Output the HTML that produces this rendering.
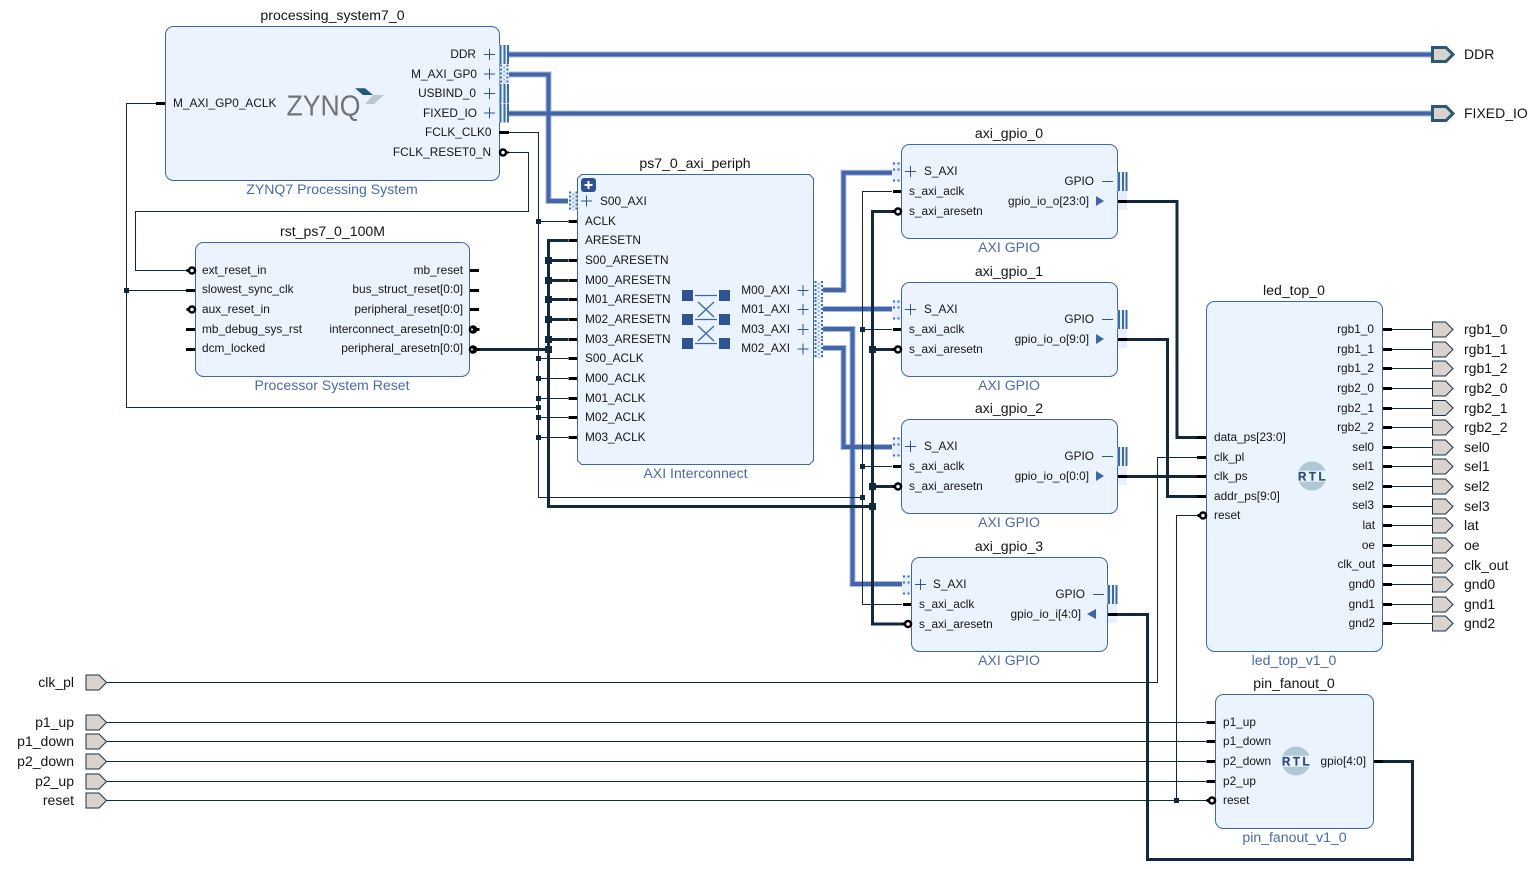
<!DOCTYPE html>
<html lang="en"><head><meta charset="utf-8"><title>Block design</title>
<style>
html,body{margin:0;padding:0;background:#fff;width:1536px;height:869px;overflow:hidden}
svg{display:block}
text{font-family:"Liberation Sans",sans-serif;font-size:11.85px;fill:#151515}
.t{font-size:14.1px;text-anchor:middle}
.s{font-size:14.1px;text-anchor:middle;fill:#4a6aa8}
.x{font-size:14px}
.e{text-anchor:end}
.xe{font-size:14px;text-anchor:end}
.box{fill:#ebf3fe;stroke:#3f66a5;stroke-width:1}
.w{fill:none;stroke:#12283f;stroke-width:1}
.r{fill:none;stroke:#12283f;stroke-width:3}
.b0{fill:none;stroke:#a6badb;stroke-width:6}
.b1{fill:none;stroke:#4466a8;stroke-width:4}
.st{stroke:#000;stroke-width:3;fill:none}
.j{fill:#12283f}
</style></head><body>
<svg width="1536" height="869" viewBox="0 0 1536 869" xmlns="http://www.w3.org/2000/svg">
<defs>
<g id="plus"><path d="M-5.5 0H5.5M0-5.5V5.5" stroke="#2e5596" stroke-width="1" fill="none"/></g>
<g id="bars"><rect x="0" y="-9.5" width="10" height="19" fill="#e6effb"/><path d="M1.500-9.500V9.500M5.500-9.500V9.500M9-9.500V9.500" stroke="#3b6ba5" stroke-width="2" fill="none"/></g>
<g id="dots"><rect x="0" y="-9.5" width="9" height="19" fill="#e6effb"/><path d="M1.500-9.500V9.500M8-9.500V9.500" stroke="#3f70b2" stroke-width="2" stroke-dasharray="2 2" fill="none"/><path d="M4.700-7.500V9.500" stroke="#9db7dc" stroke-width="2" stroke-dasharray="2 2" fill="none"/></g>
<g id="sdots"><rect x="0" y="-9.5" width="9" height="19" fill="#e6effb"/><path d="M2-9V-7M6.5-9V-7M2-3V-1M6.5-3V-1M2 8V10M6.5 8V10" stroke="#3f70b2" stroke-width="2" fill="none"/></g>
<g id="lb"><path d="M-9 0H-4" stroke="#000" stroke-width="3"/><circle cx="-3.5" cy="0" r="3" fill="#fff" stroke="#000" stroke-width="2.500"/></g>
<g id="rb"><path d="M5 0H10" stroke="#000" stroke-width="3"/><circle cx="3.500" cy="0" r="4.300" fill="#000"/><circle cx="2.500" cy="0" r="1.100" fill="#ddd"/></g>
<path id="pt" d="M0.5-7.5H13.5L21 0L13.5 7.5H0.5Z" fill="#d9d2cd" stroke="#1a3046" stroke-width="1"/>
<path id="ptb" d="M0.5-7H14L21 0L14 7H0.5Z" fill="#d9d2cd" stroke="#2a5a73" stroke-width="3"/>
</defs>

<!-- bus wires -->
<g>
<path class="b0" d="M509 54.500H1432M509 113.500H1432M509 74.500H548.500V201H568M823 290H843.500V172.700H892M823 309H892M823 329H852.500V584H902M823 348H843.500V447H892"/>
<path class="b1" d="M509 54.500H1432M509 113.500H1432M509 74.500H548.500V201H568M823 290H843.500V172.700H892M823 309H892M823 329H852.500V584H902M823 348H843.500V447H892"/>
</g>

<!-- thin wires -->
<path class="w" d="M156 103.5H126.5V407.5H538.5M126.5 290.5H187"/>
<path class="w" d="M508 152.5H528.5V211.5H135.5V270.5H187"/>
<path class="w" d="M509 132.5H538.5V497.5H862.5M538.5 221.5H568M538.5 358.5H568M538.5 378.5H568M538.5 398.5H568M538.5 417.5H568M538.5 437.5H568"/>
<path class="w" d="M892 191.5H862.5V604.5H902M862.5 329.5H892M862.5 466.5H892"/>
<path class="w" d="M107 682.5H1157.5V457.5H1197"/>
<path class="w" d="M107 722.5H1206M107 741.5H1206M107 761.5H1206M107 781.5H1206M107 800.5H1207M1176.5 800.5V515.5H1198"/>
<path class="w" d="M1392 329.5H1432M1392 349.5H1432M1392 368.5H1432M1392 388.5H1432M1392 408.5H1432M1392 427.5H1432M1392 447.5H1432M1392 466.5H1432M1392 486.5H1432M1392 506.5H1432M1392 525.5H1432M1392 545.5H1432M1392 565.5H1432M1392 584.5H1432M1392 604.5H1432M1392 623.5H1432"/>

<!-- thick wires -->
<path class="r" d="M568 240.5H548.5V506.5H872.5M548.5 260.5H568M548.5 280.5H568M548.5 299.5H568M548.5 319.5H568M548.5 339.5H568M478 349.5H548.5"/>
<path class="r" d="M895 211.5H872.5V624H905M872.5 349.5H895M872.5 486.5H895"/>
<path class="r" d="M1127 201.5H1177V437.5H1197"/>
<path class="r" d="M1127 339.5H1167.5V496.5H1197"/>
<path class="r" d="M1127 476.5H1206"/>
<path class="r" d="M1117 614.5H1147.5V859.5H1412.5V761.5H1383"/>

<!-- junctions -->
<g class="j">
<rect x="124" y="288" width="5" height="5"/>
<rect x="536" y="219" width="5" height="5"/><rect x="536" y="356" width="5" height="5"/><rect x="536" y="376" width="5" height="5"/><rect x="536" y="396" width="5" height="5"/><rect x="536" y="405" width="5" height="5"/><rect x="536" y="415" width="5" height="5"/><rect x="536" y="435" width="5" height="5"/>
<rect x="860" y="327" width="5" height="5"/><rect x="860" y="464" width="5" height="5"/><rect x="860" y="495" width="5" height="5"/>
<rect x="1174" y="798" width="5" height="5"/>
<rect x="545" y="257" width="7" height="7"/><rect x="545" y="277" width="7" height="7"/><rect x="545" y="296" width="7" height="7"/><rect x="545" y="316" width="7" height="7"/><rect x="545" y="336" width="7" height="7"/><rect x="545" y="346" width="7" height="7"/>
<rect x="869" y="346" width="7" height="7"/><rect x="869" y="483" width="7" height="7"/><rect x="869" y="503" width="7" height="7"/>
</g>

<!-- processing_system7_0 -->
<rect class="box" x="165.5" y="26.5" width="334" height="154" rx="8"/>
<text class="t" x="332.5" y="20">processing_system7_0</text>
<text class="s" x="332" y="194">ZYNQ7 Processing System</text>
<path class="st" d="M156 103.5H165M499 132.5H509"/>
<text x="173" y="107">M_AXI_GP0_ACLK</text>
<text class="e" x="476" y="58">DDR</text><text class="e" x="477" y="78">M_AXI_GP0</text><text class="e" x="476" y="97">USBIND_0</text><text class="e" x="477" y="117">FIXED_IO</text>
<text class="e" x="491.500" y="136">FCLK_CLK0</text><text class="e" x="491" y="156">FCLK_RESET0_N</text>
<use href="#plus" x="489.500" y="54.500"/><use href="#plus" x="489.500" y="74"/><use href="#plus" x="489.500" y="93.500"/><use href="#plus" x="489.500" y="113"/>
<use href="#bars" x="499" y="54.500"/><use href="#dots" x="499.500" y="74"/><use href="#bars" x="499" y="93.500"/><use href="#bars" x="499" y="113"/>
<circle cx="503" cy="152.500" r="3" fill="#fff" stroke="#000" stroke-width="2.500"/><path d="M506 152.500H509" stroke="#000" stroke-width="2"/>
<text x="286.500" y="115.500" textLength="74" lengthAdjust="spacingAndGlyphs" style="font-size:29px;fill:#727376">ZYNQ</text>
<path d="M355 88.300H365L373 95H363Z" fill="#1f5a78"/><path d="M373 95H384L374 104H365Z" fill="#b9c9d3"/>

<!-- rst_ps7_0_100M -->
<rect class="box" x="195.500" y="242.500" width="274" height="134" rx="8"/>
<text class="t" x="332.500" y="236">rst_ps7_0_100M</text>
<text class="s" x="332" y="390">Processor System Reset</text>
<text x="202" y="274">ext_reset_in</text><text x="202" y="293">slowest_sync_clk</text><text x="202" y="313">aux_reset_in</text><text x="202" y="333">mb_debug_sys_rst</text><text x="202" y="352">dcm_locked</text>
<text class="e" x="463" y="274">mb_reset</text><text class="e" x="463" y="293">bus_struct_reset[0:0]</text><text class="e" x="463" y="313">peripheral_reset[0:0]</text><text class="e" x="463" y="333">interconnect_aresetn[0:0]</text><text class="e" x="463" y="352">peripheral_aresetn[0:0]</text>
<path class="st" d="M186 290.500H195M186 329.500H195M186 349.500H195M470 270.500H479M470 290.500H479M470 309.500H479"/>
<use href="#lb" x="195.500" y="270.500"/><use href="#lb" x="195.500" y="309.500"/>
<use href="#rb" x="469.500" y="329.500"/><use href="#rb" x="469.500" y="349.500"/>

<!-- ps7_0_axi_periph -->
<path class="box" d="M581.500 174.500H809.500L813.500 178.500V460.500L809.500 464.500H581.500L577.500 460.500V178.500Z"/>
<text class="t" x="695" y="168">ps7_0_axi_periph</text>
<text class="s" x="695.500" y="478">AXI Interconnect</text>
<rect x="581" y="178" width="15" height="14" rx="3" fill="#2f5390"/><path d="M584.500 185H592.500M588.500 181V189" stroke="#fff" stroke-width="2"/>
<use href="#dots" x="568.500" y="201"/><use href="#plus" x="586.500" y="201"/>
<text x="600" y="205">S00_AXI</text>
<g>
<text x="585" y="225">ACLK</text><text x="585" y="244">ARESETN</text><text x="585" y="264">S00_ARESETN</text><text x="585" y="284">M00_ARESETN</text><text x="585" y="303">M01_ARESETN</text><text x="585" y="323">M02_ARESETN</text><text x="585" y="343">M03_ARESETN</text><text x="585" y="362">S00_ACLK</text><text x="585" y="382">M00_ACLK</text><text x="585" y="402">M01_ACLK</text><text x="585" y="421">M02_ACLK</text><text x="585" y="441">M03_ACLK</text>
</g>
<path class="st" d="M568.500 221.500H577M568.500 240.500H577M568.500 260.500H577M568.500 280.500H577M568.500 299.500H577M568.500 319.500H577M568.500 339.500H577M568.500 358.500H577M568.500 378.500H577M568.500 398.500H577M568.500 417.500H577M568.500 437.500H577"/>
<text class="e" x="790" y="294">M00_AXI</text><text class="e" x="790" y="313">M01_AXI</text><text class="e" x="790" y="333">M03_AXI</text><text class="e" x="790" y="352">M02_AXI</text>
<use href="#plus" x="803" y="290.500"/><use href="#plus" x="803" y="309.500"/><use href="#plus" x="803" y="329.500"/><use href="#plus" x="803" y="349"/>
<use href="#dots" x="814" y="290.500"/><use href="#dots" x="814" y="309.500"/><use href="#dots" x="814" y="329.500"/><use href="#dots" x="814" y="348.500"/>
<g fill="#2f5390"><rect x="682" y="290" width="11" height="11"/><rect x="682" y="314" width="11" height="11"/><rect x="682" y="338" width="11" height="11"/><rect x="719" y="290" width="11" height="11"/><rect x="719" y="314" width="11" height="11"/><rect x="719" y="338" width="11" height="11"/></g>
<path d="M695 295.500H717M695 319.500H717M695 343.500H717M698 302L714 317M714 302L698 317M698 326L714 341M714 326L698 341" stroke="#3d67a8" stroke-width="1.300" fill="none"/>

<!-- axi_gpio_0 -->
<rect class="box" x="901.500" y="144.500" width="216" height="94" rx="8"/>
<text class="t" x="1009" y="138">axi_gpio_0</text><text class="s" x="1009" y="252">AXI GPIO</text>
<use href="#sdots" x="892" y="171.500"/><use href="#plus" x="910.500" y="171.500"/>
<text x="924" y="175">S_AXI</text><text x="909" y="195">s_axi_aclk</text><text x="909" y="215">s_axi_aresetn</text>
<path class="st" d="M893 191.500H901"/><use href="#lb" x="901.500" y="211.500"/>
<text class="e" x="1094" y="185">GPIO</text><path d="M1102 181.500H1113" stroke="#2e5596"/>
<text class="e" x="1089" y="205">gpio_io_o[23:0]</text><path d="M1096 196L1104 201L1096 206Z" fill="#3c66a8"/>
<rect x="1118" y="172" width="9" height="38" fill="#e6effb"/><use href="#bars" x="1117.500" y="181.500"/><path class="st" d="M1118 201.500H1127"/>

<!-- axi_gpio_1 -->
<rect class="box" x="901.500" y="282.500" width="216" height="94" rx="8"/>
<text class="t" x="1009" y="276">axi_gpio_1</text><text class="s" x="1009" y="390">AXI GPIO</text>
<use href="#sdots" x="892" y="309.500"/><use href="#plus" x="910.500" y="309.500"/>
<text x="924" y="313">S_AXI</text><text x="909" y="333">s_axi_aclk</text><text x="909" y="353">s_axi_aresetn</text>
<path class="st" d="M893 329.500H901"/><use href="#lb" x="901.500" y="349.500"/>
<text class="e" x="1094" y="323">GPIO</text><path d="M1102 319.500H1113" stroke="#2e5596"/>
<text class="e" x="1089" y="343">gpio_io_o[9:0]</text><path d="M1096 334L1104 339L1096 344Z" fill="#3c66a8"/>
<rect x="1118" y="310" width="9" height="38" fill="#e6effb"/><use href="#bars" x="1117.500" y="319.500"/><path class="st" d="M1118 339.500H1127"/>

<!-- axi_gpio_2 -->
<rect class="box" x="901.500" y="419.500" width="216" height="94" rx="8"/>
<text class="t" x="1009" y="413">axi_gpio_2</text><text class="s" x="1009" y="527">AXI GPIO</text>
<use href="#sdots" x="892" y="446.500"/><use href="#plus" x="910.500" y="446.500"/>
<text x="924" y="450">S_AXI</text><text x="909" y="470">s_axi_aclk</text><text x="909" y="490">s_axi_aresetn</text>
<path class="st" d="M893 466.500H901"/><use href="#lb" x="901.500" y="486.500"/>
<text class="e" x="1094" y="460">GPIO</text><path d="M1102 456.500H1113" stroke="#2e5596"/>
<text class="e" x="1089" y="480">gpio_io_o[0:0]</text><path d="M1096 471L1104 476L1096 481Z" fill="#3c66a8"/>
<rect x="1118" y="447" width="9" height="38" fill="#e6effb"/><use href="#bars" x="1117.500" y="456.500"/><path class="st" d="M1118 476.500H1127"/>

<!-- axi_gpio_3 -->
<rect class="box" x="911.500" y="557.500" width="196" height="94" rx="8"/>
<text class="t" x="1009" y="551">axi_gpio_3</text><text class="s" x="1009" y="665">AXI GPIO</text>
<use href="#sdots" x="902" y="584.500"/><use href="#plus" x="920.500" y="584.500"/>
<text x="933" y="588">S_AXI</text><text x="919" y="608">s_axi_aclk</text><text x="919" y="628">s_axi_aresetn</text>
<path class="st" d="M903 604.500H911"/><use href="#lb" x="911.500" y="624"/>
<text class="e" x="1085" y="598">GPIO</text><path d="M1093 594.500H1104" stroke="#2e5596"/>
<text class="e" x="1081" y="618">gpio_io_i[4:0]</text><path d="M1096 609L1087 614L1096 619Z" fill="#3c66a8"/>
<rect x="1108" y="585" width="9" height="38" fill="#e6effb"/><use href="#bars" x="1107.500" y="594.500"/><path class="st" d="M1108 614.500H1117"/>

<!-- led_top_0 -->
<rect class="box" x="1206.500" y="301.500" width="176" height="350" rx="8"/>
<text class="t" x="1294" y="295">led_top_0</text><text class="s" x="1294" y="665">led_top_v1_0</text>
<text x="1214" y="441">data_ps[23:0]</text><text x="1214" y="461">clk_pl</text><text x="1214" y="480">clk_ps</text><text x="1214" y="500">addr_ps[9:0]</text><text x="1214" y="519">reset</text>
<path class="st" d="M1197 437.500H1206M1197 457.500H1206M1197 476.500H1206M1197 496.500H1206"/><use href="#lb" x="1206.500" y="515.500"/>
<circle cx="1312" cy="476" r="14.500" fill="#afc8d6"/><rect x="1296" y="470.700" width="32" height="11" fill="#ebf3fe"/>
<text x="1298" y="480.500" textLength="27.500" style="font-size:11.500px;font-weight:bold;fill:#274c80;stroke:#274c80;stroke-width:.3">RTL</text>
<g>
<text class="e" x="1374" y="333">rgb1_0</text><text class="e" x="1374" y="353">rgb1_1</text><text class="e" x="1374" y="372">rgb1_2</text><text class="e" x="1374" y="392">rgb2_0</text><text class="e" x="1374" y="412">rgb2_1</text><text class="e" x="1374" y="431">rgb2_2</text><text class="e" x="1374" y="451">sel0</text><text class="e" x="1374" y="470">sel1</text><text class="e" x="1374" y="490">sel2</text><text class="e" x="1374" y="509">sel3</text><text class="e" x="1375" y="529">lat</text><text class="e" x="1375" y="549">oe</text><text class="e" x="1375" y="568">clk_out</text><text class="e" x="1375" y="588">gnd0</text><text class="e" x="1375" y="608">gnd1</text><text class="e" x="1375" y="627">gnd2</text>
</g>
<path class="st" d="M1383 329.500H1392M1383 349.500H1392M1383 368.500H1392M1383 388.500H1392M1383 408.500H1392M1383 427.500H1392M1383 447.500H1392M1383 466.500H1392M1383 486.500H1392M1383 506.500H1392M1383 525.500H1392M1383 545.500H1392M1383 565.500H1392M1383 584.500H1392M1383 604.500H1392M1383 623.500H1392"/>
<use href="#pt" x="1432" y="329.500"/><use href="#pt" x="1432" y="349.500"/><use href="#pt" x="1432" y="368.500"/><use href="#pt" x="1432" y="388.500"/><use href="#pt" x="1432" y="408"/><use href="#pt" x="1432" y="427.500"/><use href="#pt" x="1432" y="447.500"/><use href="#pt" x="1432" y="466.500"/><use href="#pt" x="1432" y="486.500"/><use href="#pt" x="1432" y="506.500"/><use href="#pt" x="1432" y="525.500"/><use href="#pt" x="1432" y="545.500"/><use href="#pt" x="1432" y="565.500"/><use href="#pt" x="1432" y="584.500"/><use href="#pt" x="1432" y="604.500"/><use href="#pt" x="1432" y="623.500"/>
<text class="x" x="1464" y="334">rgb1_0</text><text class="x" x="1464" y="354">rgb1_1</text><text class="x" x="1464" y="373">rgb1_2</text><text class="x" x="1464" y="393">rgb2_0</text><text class="x" x="1464" y="413">rgb2_1</text><text class="x" x="1464" y="432">rgb2_2</text><text class="x" x="1464" y="452">sel0</text><text class="x" x="1464" y="471">sel1</text><text class="x" x="1464" y="491">sel2</text><text class="x" x="1464" y="511">sel3</text><text class="x" x="1464" y="530">lat</text><text class="x" x="1464" y="550">oe</text><text class="x" x="1464" y="570">clk_out</text><text class="x" x="1464" y="589">gnd0</text><text class="x" x="1464" y="609">gnd1</text><text class="x" x="1464" y="628">gnd2</text>

<!-- pin_fanout_0 -->
<rect class="box" x="1215.500" y="694.500" width="158" height="134" rx="8"/>
<text class="t" x="1294" y="688">pin_fanout_0</text><text class="s" x="1294.500" y="842">pin_fanout_v1_0</text>
<text x="1223" y="726">p1_up</text><text x="1223" y="745">p1_down</text><text x="1223" y="765">p2_down</text><text x="1223" y="785">p2_up</text><text x="1223" y="804">reset</text>
<path class="st" d="M1206.500 722.500H1215M1206.500 741.500H1215M1206.500 761.500H1215M1206.500 781.500H1215M1374 761.500H1383"/><use href="#lb" x="1215.500" y="800.500"/>
<circle cx="1296" cy="761" r="14.500" fill="#afc8d6"/><rect x="1280" y="755.700" width="32" height="11" fill="#ebf3fe"/>
<text x="1282" y="765.500" textLength="27.500" style="font-size:11.500px;font-weight:bold;fill:#274c80;stroke:#274c80;stroke-width:.3">RTL</text>
<text class="e" x="1366" y="765">gpio[4:0]</text>

<!-- external ports -->
<use href="#ptb" x="1432" y="54.500"/><use href="#ptb" x="1432" y="113.500"/>
<text class="x" x="1464" y="59">DDR</text><text class="x" x="1464" y="118">FIXED_IO</text>
<use href="#pt" x="85.500" y="682.500"/><use href="#pt" x="85.500" y="722.500"/><use href="#pt" x="85.500" y="741.500"/><use href="#pt" x="85.500" y="761.500"/><use href="#pt" x="85.500" y="781.500"/><use href="#pt" x="85.500" y="800.500"/>
<text class="xe" x="74" y="687">clk_pl</text><text class="xe" x="74" y="727">p1_up</text><text class="xe" x="74" y="746">p1_down</text><text class="xe" x="74" y="766">p2_down</text><text class="xe" x="74" y="786">p2_up</text><text class="xe" x="74" y="805">reset</text>
</svg>
</body></html>
